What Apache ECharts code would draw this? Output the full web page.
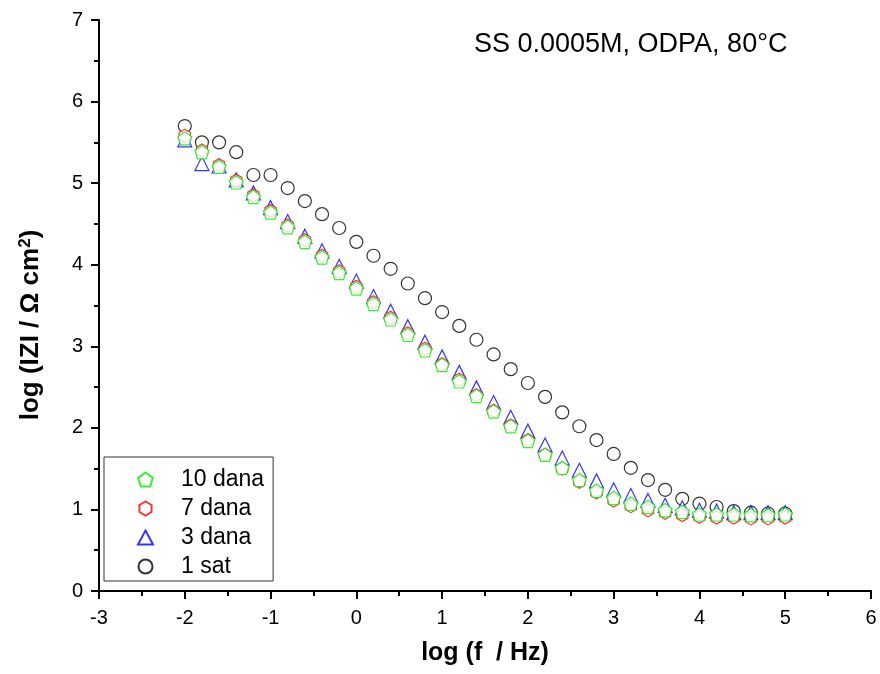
<!DOCTYPE html>
<html>
<head>
<meta charset="utf-8">
<script src="https://cdn.jsdelivr.net/npm/echarts@6/dist/echarts.min.js"></script>
<style>html,body{margin:0;padding:0;background:#fff}#c{width:880px;height:674px}</style>
</head>
<body>
<div id="c"></div>
<script>
const logF = [-2.0,-1.8,-1.6,-1.4,-1.2,-1.0,-0.8,-0.6,-0.4,-0.2,0.0,0.2,0.4,0.6,0.8,1.0,1.2,1.4,1.6,1.8,2.0,2.2,2.4,2.6,2.8,3.0,3.2,3.4,3.6,3.8,4.0,4.2,4.4,4.6,4.8,5.0];
const dana10 = [5.55,5.38,5.20,5.01,4.83,4.64,4.46,4.28,4.09,3.90,3.71,3.52,3.33,3.14,2.95,2.77,2.57,2.39,2.20,2.02,1.84,1.67,1.51,1.36,1.23,1.14,1.07,1.03,0.99,0.97,0.94,0.94,0.94,0.93,0.93,0.94];
const dana7 = [5.58,5.40,5.22,5.03,4.85,4.66,4.48,4.30,4.11,3.92,3.73,3.54,3.35,3.16,2.97,2.78,2.59,2.40,2.21,2.03,1.85,1.67,1.50,1.34,1.21,1.11,1.04,0.99,0.96,0.93,0.91,0.90,0.90,0.89,0.89,0.90];
const dana3 = [5.53,5.24,5.21,5.04,4.88,4.70,4.53,4.35,4.17,3.98,3.80,3.61,3.43,3.24,3.05,2.87,2.68,2.49,2.31,2.13,1.96,1.79,1.63,1.48,1.35,1.24,1.17,1.11,1.05,1.02,0.99,0.98,0.96,0.96,0.96,0.96];
const sat1 = [5.70,5.50,5.50,5.38,5.10,5.10,4.94,4.78,4.62,4.45,4.28,4.11,3.95,3.77,3.59,3.42,3.25,3.08,2.90,2.72,2.55,2.38,2.19,2.02,1.85,1.68,1.51,1.36,1.24,1.13,1.07,1.03,0.98,0.96,0.95,0.95];
const seriesNames = ['10 dana','7 dana','3 dana','1 sat'];
const xTicks = [-3,-2,-1,0,1,2,3,4,5,6];
const yTicks = [0,1,2,3,4,5,6,7];
const titleText = 'SS 0.0005M, ODPA, 80°C';
const xName = 'log (f  / Hz)';

const pentagon = 'path://M0,-1 L0.951,-0.309 L0.588,0.809 L-0.588,0.809 L-0.951,-0.309 Z';
const hexagon = 'path://M0,-1 L0.866,-0.5 L0.866,0.5 L0,1 L-0.866,0.5 L-0.866,-0.5 Z';
const pts = arr => logF.map((x,i)=>[x,arr[i]]);

const chart = echarts.init(document.getElementById('c'), null, {renderer:'canvas'});
const font = 'Arial, "Liberation Sans", sans-serif';
function sc(name, data, symbol, size, color, z){
  return {name, type:'scatter', data:pts(data), symbol, symbolSize:size, symbolKeepAspect:true, z,
    itemStyle:{color:'#fff', borderColor:color, borderWidth:1.2}, emphasis:{disabled:true}};
}
const axisCommon = {
  axisLine:{show:true, onZero:false, lineStyle:{color:'#000', width:2}},
  axisTick:{show:true, inside:false, length:8, lineStyle:{color:'#000', width:2}},
  minorTick:{show:true, splitNumber:2, length:5, lineStyle:{color:'#000', width:2}},
  splitLine:{show:false}
};
chart.setOption({
  animation:false,
  backgroundColor:'#fff',
  title:{text:titleText, left:469, top:26, textStyle:{fontFamily:font, fontSize:27, fontWeight:'normal', color:'#000'}},
  grid:{left:99, right:9, top:20, bottom:83},
  legend:{
    orient:'vertical', left:104, top:457,
    data:[{name:'10 dana', icon:pentagon},{name:'7 dana', icon:hexagon},{name:'3 dana', icon:'triangle'},{name:'1 sat', icon:'circle'}],
    itemWidth:15, itemHeight:14, itemGap:6,
    padding:[11, 9, 3, 33],
    borderColor:'#333', borderWidth:1,
    textStyle:{fontFamily:font, fontSize:23, color:'#000', lineHeight:23, padding:[0,0,0,23]},
    selectedMode:false
  },
  xAxis:Object.assign({
    type:'value', min:-3, max:6, interval:1,
    name:xName, nameLocation:'middle', nameGap:50,
    nameTextStyle:{fontFamily:font, fontSize:25, fontWeight:'bold', color:'#000'},
    axisLabel:{fontFamily:font, fontSize:20, color:'#000', margin:17, formatter:v=>xTicks.includes(v)?String(v):''}
  }, axisCommon),
  yAxis:Object.assign({
    type:'value', min:0, max:7, interval:1,
    axisLabel:{fontFamily:font, fontSize:20, color:'#000', margin:16, formatter:v=>yTicks.includes(v)?String(v):''}
  }, axisCommon),
  graphic:[{
    type:'text', x:31, y:325, rotation:Math.PI/2,
    style:{text:'{a|log (IZI / Ω cm}{s|2}{a|)}', align:'center', verticalAlign:'middle',
      rich:{a:{fontFamily:font, fontSize:26, fontWeight:'bold', fill:'#000'},
            s:{fontFamily:font, fontSize:17, fontWeight:'bold', fill:'#000', verticalAlign:'top', padding:[0,0,12,0]}}}
  }],
  series:[
    sc('1 sat', sat1, 'circle', 13, '#000', 1),
    sc('3 dana', dana3, 'triangle', 14, '#0000ff', 2),
    sc('7 dana', dana7, hexagon, 13, '#ff0000', 3),
    sc('10 dana', dana10, pentagon, 14, '#00ee00', 4)
  ]
});
</script>
</body>
</html>
